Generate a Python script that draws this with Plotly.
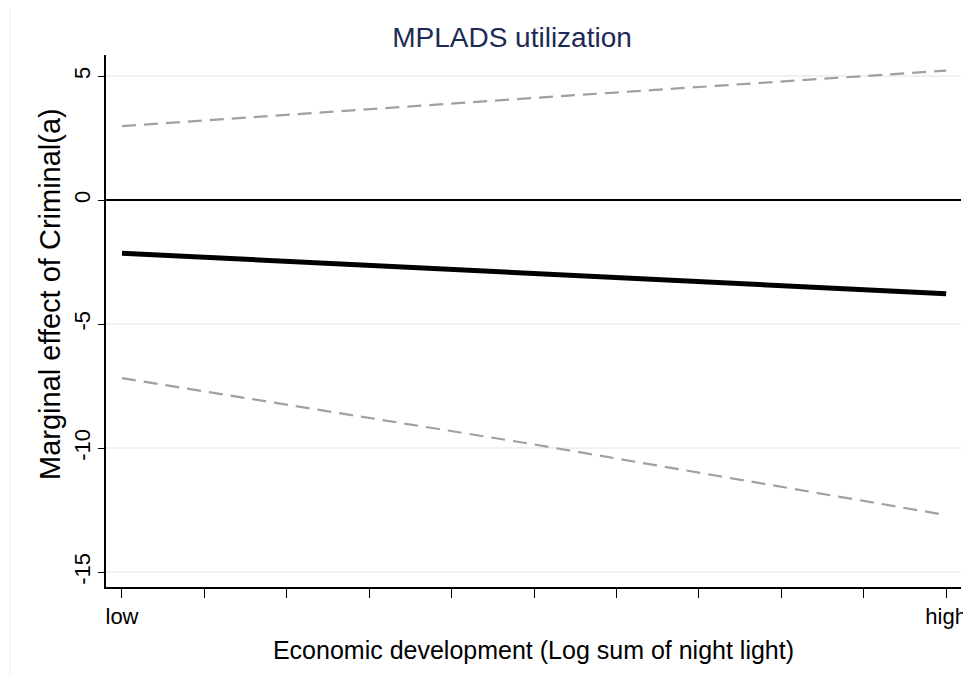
import plotly.graph_objects as go

# Data
x_pos = [0, 5, 10]
estimate = [-2.14, -2.96, -3.78]
upper_ci = [2.98, 4.12, 5.22]
lower_ci = [-7.18, -9.85, -12.70]

tick_positions = list(range(11))
tick_labels = ["low"] + [""] * 9 + ["high"]
y_ticks = [5, 0, -5, -10, -15]
y_tick_labels = ["5", "0", "-5", "-10", "-15"]

FONT = "Liberation Sans, Arial, sans-serif"

W, H = 963, 667  # page body has an 8px margin
L, R, T, B = 98, 10, 47, 88
PW, PH = W - L - R, H - T - B

fig = go.Figure()
fig.add_trace(go.Scatter(x=x_pos, y=upper_ci, mode="lines",
                         line=dict(color="#a0a0a0", width=2.2, dash="14px,8px"),
                         showlegend=False, hoverinfo="skip"))
fig.add_trace(go.Scatter(x=x_pos, y=lower_ci, mode="lines",
                         line=dict(color="#a0a0a0", width=2.2, dash="14px,8px"),
                         showlegend=False, hoverinfo="skip"))
fig.add_trace(go.Scatter(x=x_pos, y=estimate, mode="lines",
                         line=dict(color="black", width=5),
                         showlegend=False, hoverinfo="skip"))

fig.update_layout(
    width=W, height=H,
    margin=dict(l=L, r=R, t=T, b=B),
    paper_bgcolor="white", plot_bgcolor="white",
    font=dict(family=FONT, color="black", size=22),
    title=dict(text="MPLADS utilization", x=504 / W, xanchor="center", xref="container",
               y=1 - 29 / H, yanchor="middle", yref="container",
               font=dict(family=FONT, size=28, color="#1c2a55")),
    xaxis=dict(range=[-0.194, 10.18], tickvals=tick_positions, ticktext=tick_labels,
               ticks="outside", ticklen=9, tickwidth=1.3, tickcolor="black",
               showline=True, linecolor="black", linewidth=1.5,
               showgrid=False, zeroline=False, automargin=False,
               tickfont=dict(family=FONT, size=22),
               title=dict(text="Economic development (Log sum of night light)",
                          font=dict(family=FONT, size=25), standoff=13)),
    yaxis=dict(range=[-15.6, 5.85], tickvals=y_ticks, ticktext=y_tick_labels, tickangle=-90,
               ticks="outside", ticklen=6, tickwidth=1.3, tickcolor="black",
               showline=True, linecolor="black", linewidth=1.5,
               showgrid=True, gridcolor="#eaf2f3", gridwidth=1.5,
               zeroline=True, zerolinecolor="black", zerolinewidth=2,
               automargin=False, ticklabelstandoff=-1,
               tickfont=dict(family=FONT, size=22)),
    annotations=[dict(text="Marginal effect of Criminal(a)", textangle=-90,
                      xref="paper", yref="paper",
                      x=(42 - L) / PW, y=1 - (286 - T) / PH,
                      xanchor="center", yanchor="middle", showarrow=False,
                      font=dict(family=FONT, size=29, color="black"))],
    shapes=[dict(type="line", xref="paper", yref="paper",
                 x0=-(L - 2) / PW, x1=-(L - 2) / PW,
                 y0=1 + T / PH, y1=-B / PH,
                 line=dict(color="#eeeeee", width=1))],
)

fig.write_html("out.html")
